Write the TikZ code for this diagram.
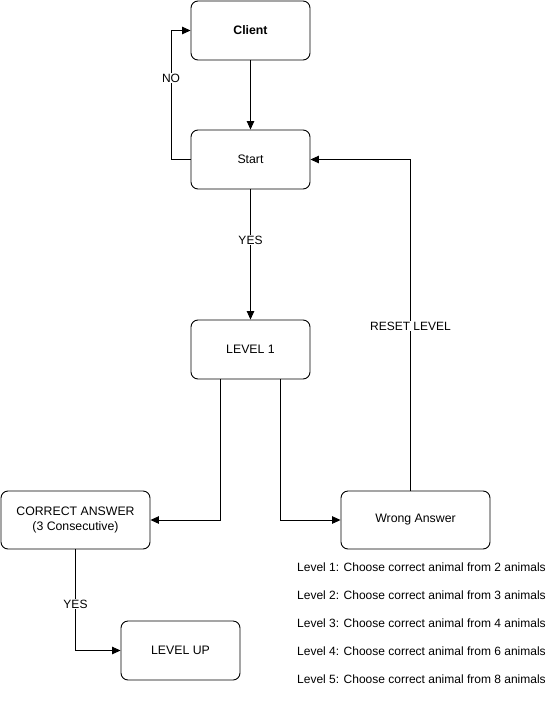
\documentclass[tikz,border=0pt]{standalone}
\usepackage{fontspec}
\setmainfont{Liberation Sans}
\usetikzlibrary{arrows.meta}
\begin{document}
\begin{tikzpicture}[x=1pt,y=-1pt,
  box/.style={draw, rounded corners=7pt, line width=0.9pt, minimum width=119pt, minimum height=59pt, font=\fontsize{12.3}{14}\selectfont, align=center, inner sep=0pt},
  flow/.style={draw, line width=0.9pt, -{Triangle[length=8.5pt,width=7.5pt]}},
  lbl/.style={fill=white, font=\fontsize{12}{13}\selectfont, inner sep=1pt},
  note/.style={anchor=west, font=\fontsize{12}{13}\selectfont, inner sep=0pt}]
  \useasboundingbox (0,0) rectangle (551,717);
  % process boxes
  \node[box, font=\fontsize{12.3}{14}\selectfont\bfseries] (client) at (250.5,30.5) {Client};
  \node[box] (start) at (250.5,159.5) {Start};
  \node[box] (lvl) at (250.5,349.5) {LEVEL 1};
  \node[box, minimum width=149pt, minimum height=58pt] (correct) at (75.5,520) {CORRECT ANSWER\\[1pt](3 Consecutive)};
  \node[box, minimum width=149pt, minimum height=58pt] (wrong) at (415.5,520) {Wrong Answer};
  \node[box] (up) at (180.5,650.5) {LEVEL UP};
  % flow
  \draw[flow] (client) -- (start);
  \coordinate (noA) at (171,159.5);
  \coordinate (noB) at (171,30.5);
  \draw[flow] (start.west) -- (noA) -- (noB) -- (client.west);
  \node[lbl] at (171,78) {NO};
  \draw[flow] (start) -- (lvl);
  \node[lbl] at (250.5,240) {YES};
  \coordinate (lA) at (220.5,379);
  \coordinate (lB) at (220.5,520);
  \draw[flow] (lA) -- (lB) -- (correct.east);
  \coordinate (rA) at (280.5,379);
  \coordinate (rB) at (280.5,520);
  \draw[flow] (rA) -- (rB) -- (wrong.west);
  \coordinate (wA) at (410.5,491);
  \coordinate (wB) at (410.5,159.5);
  \draw[flow] (wA) -- (wB) -- (start.east);
  \node[lbl] at (410.5,326) {RESET LEVEL};
  \coordinate (cA) at (75.5,549);
  \coordinate (cB) at (75.5,650.5);
  \draw[flow] (cA) -- (cB) -- (up.west);
  \node[lbl] at (75.5,604) {YES};
  % level notes
  \node[note] (n1) at (297,567) {Level 1: Choose correct animal from 2 animals};
  \node[note] (n2) at (297,595) {Level 2: Choose correct animal from 3 animals};
  \node[note] (n3) at (297,623) {Level 3: Choose correct animal from 4 animals};
  \node[note] (n4) at (297,651) {Level 4: Choose correct animal from 6 animals};
  \node[note] (n5) at (297,679) {Level 5: Choose correct animal from 8 animals};
\end{tikzpicture}
\end{document}
